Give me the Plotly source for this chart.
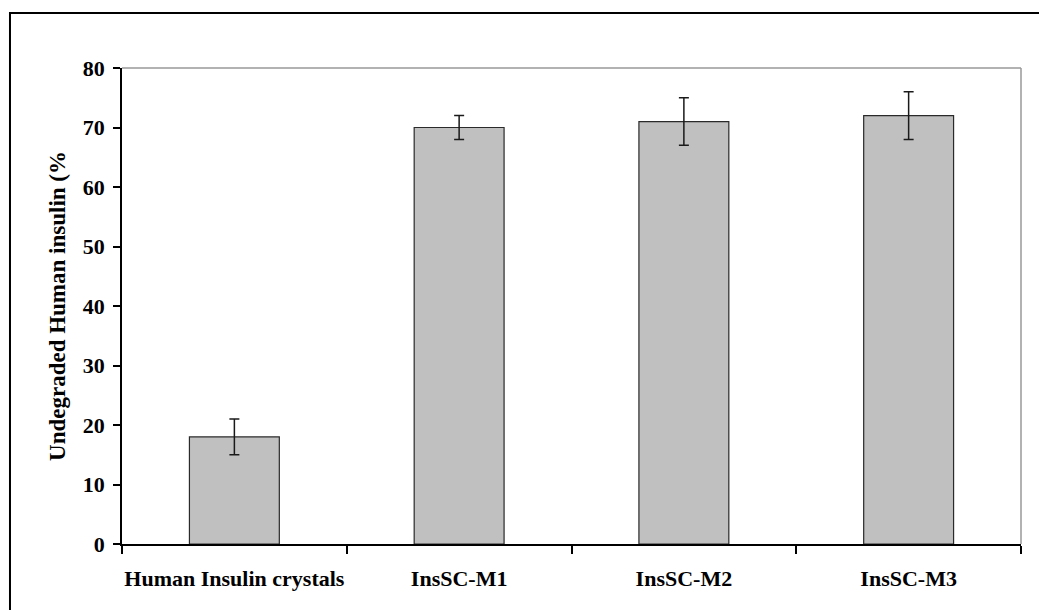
import plotly.graph_objects as go

# Degradation data: mean undegraded insulin with standard deviation
categories = ["Human Insulin crystals", "InsSC-M1", "InsSC-M2", "InsSC-M3"]
undegraded = [18, 70, 71, 72]
std_dev = [3, 2, 4, 4]

FONT = "Liberation Serif"

fig = go.Figure()
fig.add_trace(go.Bar(
    x=categories,
    y=undegraded,
    width=0.4,
    marker=dict(color="#c0c0c0", line=dict(color="#2a2a2a", width=1.2)),
    error_y=dict(type="data", array=std_dev, visible=True,
                 color="#1a1a1a", thickness=1.5, width=5),
    showlegend=False,
))

fig.update_layout(
    width=1039, height=610,
    margin=dict(l=122, r=18, t=68, b=66),
    paper_bgcolor="white", plot_bgcolor="white",
    font=dict(family=FONT, color="black"),
    shapes=[
        # outer frame (top and left edges visible)
        dict(type="rect", xref="paper", yref="paper",
             x0=-0.1246, y0=-0.2, x1=1.1, y1=1.1155,
             line=dict(color="black", width=2), layer="below"),
        # plot area frame (top and right)
        dict(type="line", xref="paper", yref="paper", x0=0, x1=1, y0=1, y1=1,
             line=dict(color="#999999", width=1.5)),
        dict(type="line", xref="paper", yref="paper", x0=1, x1=1, y0=0, y1=1,
             line=dict(color="#999999", width=1.5)),
    ],
)

fig.update_xaxes(
    type="category", tickson="boundaries", tickangle=0, automargin=False,
    showline=True, linecolor="black", linewidth=1.5,
    ticks="outside", ticklen=8, tickcolor="black", tickwidth=1.5,
    showgrid=False, zeroline=False,
    tickfont=dict(family=FONT, size=22, color="black", weight="bold"),
    ticklabelstandoff=14,
)
fig.update_yaxes(
    range=[0, 80], dtick=10, automargin=False,
    showline=True, linecolor="black", linewidth=1.5,
    ticks="outside", ticklen=7, tickcolor="black", tickwidth=1.5,
    showgrid=False, zeroline=False,
    tickfont=dict(family=FONT, size=22, color="black", weight="bold"),
    ticklabelstandoff=4,
    title=dict(text="Undegraded Human insulin (%",
               font=dict(family=FONT, size=23, color="black", weight="bold"),
               standoff=11),
)

fig.write_html("out.html")
